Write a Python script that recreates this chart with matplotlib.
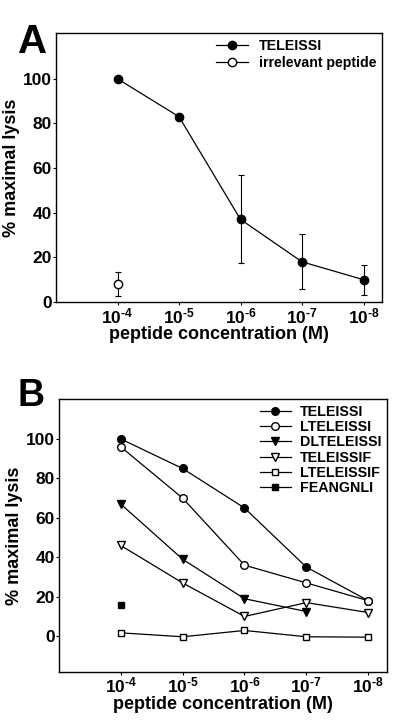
import numpy as np
import matplotlib
matplotlib.use("Agg")
import matplotlib.pyplot as plt
from matplotlib.lines import Line2D

plt.rcParams['font.family'] = ['Liberation Sans', 'DejaVu Sans']
plt.rcParams['font.weight'] = 'bold'
plt.rcParams['axes.labelweight'] = 'bold'
plt.rcParams['mathtext.fontset'] = 'custom'
plt.rcParams['mathtext.rm'] = 'Liberation Sans:bold'
plt.rcParams['mathtext.bf'] = 'Liberation Sans:bold'
plt.rcParams['mathtext.default'] = 'rm'

conc_labels = ['10$^{\u20104}$', '10$^{\u20105}$', '10$^{\u20106}$', '10$^{\u20107}$', '10$^{\u20108}$']
conc_pos = [1, 2, 3, 4, 5]

# Panel A
a_teleissi = [100, 83, 37, 18, 10]
a_teleissi_err = [0, 1, 19.7, 12.3, 6.7]
a_irrelevant = [8]
a_irrelevant_err = [5.5]

# Panel B
b_teleissi = [100, 85, 65, 35, 18]
b_lteleissi = [96, 70, 36, 27, 18]
b_dlteleissi = [67, 39, 19, 12.5, np.nan]
b_teleissif = [46, 27, 10, 17, 12]
b_lteleissif = [1.7, -0.3, 2.9, -0.3, -0.5]
b_feangnli = [16]

fig = plt.figure(figsize=(4.0, 7.26), dpi=100)

lw = 0.9
tick_fs = 12.5
label_fs = 13

def style(ax, ylim):
    ax.set_xlim(0, 5.3)
    ax.set_ylim(*ylim)
    ax.set_xticks(conc_pos)
    ax.set_xticklabels(conc_labels, fontsize=tick_fs, fontweight='bold')
    ax.set_yticks([0, 20, 40, 60, 80, 100])
    ax.set_yticklabels(['0', '20', '40', '60', '80', '100'], fontsize=tick_fs, fontweight='bold')
    ax.tick_params(direction='out', length=2, width=0.8, pad=1.0)
    for s in ax.spines.values():
        s.set_linewidth(1.0)
    ax.set_xlabel('peptide concentration (M)', fontsize=label_fs, fontweight='bold', labelpad=0)
    ax.set_ylabel('% maximal lysis', fontsize=label_fs, fontweight='bold', labelpad=2)

# ---- Panel A ----
axA = fig.add_axes([0.14, 0.584, 0.815, 0.3705])
axA.errorbar(conc_pos, a_teleissi, yerr=a_teleissi_err, color='black', lw=lw,
             marker='o', ms=6, mfc='black', mec='black', capsize=2.5, elinewidth=0.8,
             capthick=0.8, label='TELEISSI')
axA.errorbar(conc_pos[:1], a_irrelevant, yerr=a_irrelevant_err, color='black', lw=lw,
             marker='o', ms=6, mfc='white', mec='black', capsize=2.5, elinewidth=0.8,
             capthick=0.8, label='irrelevant peptide')
style(axA, (0, 120.5))
hA = [Line2D([], [], color='black', lw=lw, marker='o', ms=6, mfc='black', mec='black'),
      Line2D([], [], color='black', lw=lw, marker='o', ms=6, mfc='white', mec='black')]
axA.legend(hA, ['TELEISSI', 'irrelevant peptide'], loc='upper right', frameon=False,
           fontsize=10.2, handlelength=2.2, handletextpad=0.8, labelspacing=0.2,
           borderaxespad=0.0, bbox_to_anchor=(1.0, 1.0))
fig.text(0.045, 0.942, 'A', fontsize=29, fontweight='bold', ha='left', va='center')

# ---- Panel B ----
axB = fig.add_axes([0.147, 0.0748, 0.82, 0.375])
ms = 5.5
axB.plot(conc_pos, b_teleissi, color='black', lw=lw, marker='o', ms=ms, mfc='black', mec='black', label='TELEISSI')
axB.plot(conc_pos, b_lteleissi, color='black', lw=lw, marker='o', ms=ms, mfc='white', mec='black', label='LTELEISSI')
axB.plot(conc_pos, b_dlteleissi, color='black', lw=lw, marker='v', ms=ms+0.5, mfc='black', mec='black', label='DLTELEISSI')
axB.plot(conc_pos, b_teleissif, color='black', lw=lw, marker='v', ms=ms+0.5, mfc='white', mec='black', label='TELEISSIF')
axB.plot(conc_pos, b_lteleissif, color='black', lw=lw, marker='s', ms=ms-0.5, mfc='white', mec='black', label='LTELEISSIF')
axB.plot(conc_pos[:1], b_feangnli, color='black', lw=lw, marker='s', ms=ms-0.5, mfc='black', mec='black', label='FEANGNLI', linestyle='none')
style(axB, (-18, 120))
hB = [Line2D([], [], color='black', lw=lw, marker='o', ms=ms, mfc='black', mec='black'),
      Line2D([], [], color='black', lw=lw, marker='o', ms=ms, mfc='white', mec='black'),
      Line2D([], [], color='black', lw=lw, marker='v', ms=ms+0.5, mfc='black', mec='black'),
      Line2D([], [], color='black', lw=lw, marker='v', ms=ms+0.5, mfc='white', mec='black'),
      Line2D([], [], color='black', lw=lw, marker='s', ms=ms-0.5, mfc='white', mec='black'),
      Line2D([], [], color='black', lw=lw, marker='s', ms=ms-0.5, mfc='black', mec='black')]
axB.legend(hB, ['TELEISSI', 'LTELEISSI', 'DLTELEISSI', 'TELEISSIF', 'LTELEISSIF', 'FEANGNLI'],
           loc='upper right', frameon=False, fontsize=10.3, handlelength=2.2,
           handletextpad=0.6, labelspacing=0.08, borderaxespad=0.0,
           bbox_to_anchor=(1.0, 1.0))
fig.text(0.045, 0.455, 'B', fontsize=27, fontweight='bold', ha='left', va='center')

fig.savefig('out.png', dpi=100)
